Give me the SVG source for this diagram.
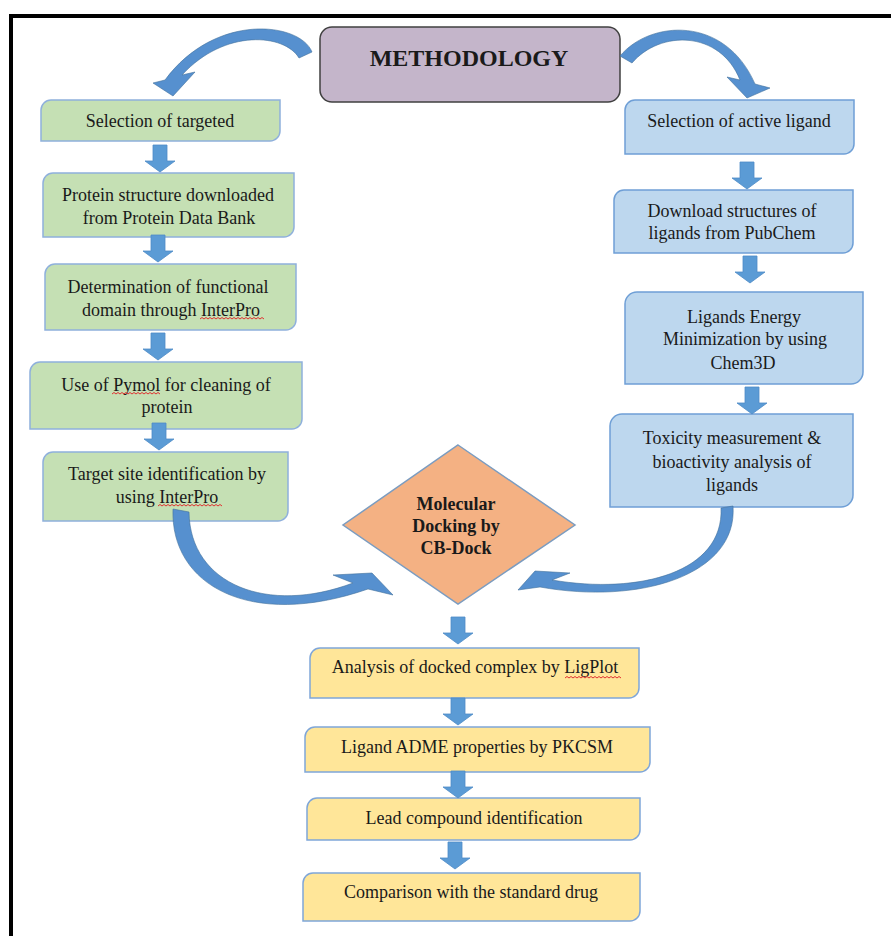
<svg xmlns="http://www.w3.org/2000/svg" width="891" height="936" viewBox="0 0 891 936">
<style>
.t{font-family:"Liberation Serif","Times New Roman",serif;font-size:18px;fill:#1a1a1a;text-anchor:middle}
.b{font-weight:bold}
.g{fill:#c5e0b4;stroke:#8fb0dc;stroke-width:1.5}
.bl{fill:#bdd7ee;stroke:#6f9fd6;stroke-width:1.5}
.y{fill:#ffe699;stroke:#7fa6d9;stroke-width:1.5}
.arr{fill:#5b9bd5;stroke:#4f8cc6;stroke-width:0.8}
.cur{fill:#5690cf;stroke:#41719c;stroke-width:0.6}
.w{fill:none;stroke:#e03030;stroke-width:1}
</style>
<defs>
<path id="ba" d="M -7,0 H 7 V 16 H 15 L 0,27 L -15,16 H -7 Z"/>
</defs>
<rect x="0" y="0" width="891" height="936" fill="#ffffff"/>
<rect x="11" y="16" width="900" height="950" fill="none" stroke="#000" stroke-width="4"/>

<g id="methodology">
<rect x="320" y="27" width="300" height="75" rx="12" fill="#c4b5ca" stroke="#404040" stroke-width="1.5"/>
<text class="t b" x="469" y="66" style="font-size:24px">METHODOLOGY</text>
</g>

<g id="n-selection-targeted">
<path class="g" d="M51,100 H280 V131 A10,10 0 0 1 270,141 H41 V110 A10,10 0 0 1 51,100 Z"/>
<text class="t" x="160" y="127">Selection of targeted</text>
</g>
<g id="n-protein-structure">
<path class="g" d="M53,173 H294 V227 A10,10 0 0 1 284,237 H43 V183 A10,10 0 0 1 53,173 Z"/>
<text class="t" x="168" y="201">Protein structure downloaded</text>
<text class="t" x="169" y="224">from Protein Data Bank</text>
</g>
<g id="n-functional-domain">
<path class="g" d="M55,264 H296 V320 A10,10 0 0 1 286,330 H45 V274 A10,10 0 0 1 55,264 Z"/>
<text class="t" x="168" y="293">Determination of functional</text>
<text class="t" x="171" y="316">domain through InterPro</text>
<path class="w" d="M200,319 l2,-1.5 2,1.5 2,-1.5 2,1.5 2,-1.5 2,1.5 2,-1.5 2,1.5 2,-1.5 2,1.5 2,-1.5 2,1.5 2,-1.5 2,1.5 2,-1.5 2,1.5 2,-1.5 2,1.5 2,-1.5 2,1.5 2,-1.5 2,1.5 2,-1.5 2,1.5 2,-1.5 2,1.5 2,-1.5 2,1.5 2,-1.5 2,1.5 2,-1.5 2,1.5"/>
</g>
<g id="n-pymol">
<path class="g" d="M40,362 H302 V419 A10,10 0 0 1 292,429 H30 V372 A10,10 0 0 1 40,362 Z"/>
<text class="t" x="166" y="391">Use of Pymol for cleaning of</text>
<text class="t" x="167" y="413">protein</text>
<path class="w" d="M112,394 l2,-1.5 2,1.5 2,-1.5 2,1.5 2,-1.5 2,1.5 2,-1.5 2,1.5 2,-1.5 2,1.5 2,-1.5 2,1.5 2,-1.5 2,1.5 2,-1.5 2,1.5 2,-1.5 2,1.5 2,-1.5 2,1.5 2,-1.5 2,1.5 2,-1.5 2,1.5"/>
</g>
<g id="n-target-site">
<path class="g" d="M53,452 H288 V511 A10,10 0 0 1 278,521 H43 V462 A10,10 0 0 1 53,452 Z"/>
<text class="t" x="167" y="480">Target site identification by</text>
<text class="t" x="167" y="503">using InterPro</text>
<path class="w" d="M158,506 l2,-1.5 2,1.5 2,-1.5 2,1.5 2,-1.5 2,1.5 2,-1.5 2,1.5 2,-1.5 2,1.5 2,-1.5 2,1.5 2,-1.5 2,1.5 2,-1.5 2,1.5 2,-1.5 2,1.5 2,-1.5 2,1.5 2,-1.5 2,1.5 2,-1.5 2,1.5 2,-1.5 2,1.5 2,-1.5 2,1.5 2,-1.5 2,1.5 2,-1.5 2,1.5"/>
</g>

<g id="n-active-ligand">
<path class="bl" d="M635,100 H854 V144 A10,10 0 0 1 844,154 H625 V110 A10,10 0 0 1 635,100 Z"/>
<text class="t" x="739" y="127">Selection of active ligand</text>
</g>
<g id="n-download-ligands">
<path class="bl" d="M624,190 H853 V243 A10,10 0 0 1 843,253 H614 V200 A10,10 0 0 1 624,190 Z"/>
<text class="t" x="732" y="217">Download structures of</text>
<text class="t" x="732" y="239">ligands from PubChem</text>
</g>
<g id="n-energy-min">
<path class="bl" d="M637,292 H863 V372 A12,12 0 0 1 851,384 H625 V304 A12,12 0 0 1 637,292 Z"/>
<text class="t" x="744" y="323">Ligands Energy</text>
<text class="t" x="745" y="345">Minimization by using</text>
<text class="t" x="743" y="369">Chem3D</text>
</g>
<g id="n-toxicity">
<path class="bl" d="M622,414 H853 V495 A12,12 0 0 1 841,507 H610 V426 A12,12 0 0 1 622,414 Z"/>
<text class="t" x="732" y="444">Toxicity measurement &amp;</text>
<text class="t" x="732" y="468">bioactivity analysis of</text>
<text class="t" x="732" y="491">ligands</text>
</g>

<g id="n-docking">
<polygon points="458,445 575,525 458,604 343,525" fill="#f4b183" stroke="#7b9cc0" stroke-width="1.5"/>
<text class="t b" x="456" y="510">Molecular</text>
<text class="t b" x="456" y="532">Docking by</text>
<text class="t b" x="456" y="554">CB-Dock</text>
</g>

<g id="n-ligplot">
<path class="y" d="M320,648 H639 V688 A10,10 0 0 1 629,698 H310 V658 A10,10 0 0 1 320,648 Z"/>
<text class="t" x="475" y="673">Analysis of docked complex by LigPlot</text>
<path class="w" d="M565,678 l2,-1.5 2,1.5 2,-1.5 2,1.5 2,-1.5 2,1.5 2,-1.5 2,1.5 2,-1.5 2,1.5 2,-1.5 2,1.5 2,-1.5 2,1.5 2,-1.5 2,1.5 2,-1.5 2,1.5 2,-1.5 2,1.5 2,-1.5 2,1.5 2,-1.5 2,1.5 2,-1.5 2,1.5 2,-1.5 2,1.5"/>
</g>
<g id="n-adme">
<path class="y" d="M315,727 H650 V762 A10,10 0 0 1 640,772 H305 V737 A10,10 0 0 1 315,727 Z"/>
<text class="t" x="477" y="753">Ligand ADME properties by PKCSM</text>
</g>
<g id="n-lead">
<path class="y" d="M317,798 H640 V830 A10,10 0 0 1 630,840 H307 V808 A10,10 0 0 1 317,798 Z"/>
<text class="t" x="474" y="824">Lead compound identification</text>
</g>
<g id="n-comparison">
<path class="y" d="M313,873 H640 V911 A10,10 0 0 1 630,921 H303 V883 A10,10 0 0 1 313,873 Z"/>
<text class="t" x="471" y="898">Comparison with the standard drug</text>
</g>

<g id="connectors">
<path class="cur" d="M312,52 C300,22 215,12 165,80 L153,83 L173,96 L195,72 L182,75 C225,28 285,34 299,58 Z"/>
<path class="cur" d="M620,56 C650,20 725,15 755,84 L770,88 L747,98 L727,77 L740,80 C720,30 660,30 632,63 Z"/>
<path class="cur" d="M173,509 C170,585 250,630 368,589 L393,595 L372,573 L333,575 L353,583 C268,615 190,585 189,512 Z"/>
<path class="cur" d="M733,506 C738,575 640,605 540,587 L518,590 L535,571 L570,573 L552,580 C640,595 724,572 721,508 Z"/>
<use href="#ba" class="arr" transform="translate(160,145)"/>
<use href="#ba" class="arr" transform="translate(158,235)"/>
<use href="#ba" class="arr" transform="translate(158,333)"/>
<use href="#ba" class="arr" transform="translate(159,423)"/>
<use href="#ba" class="arr" transform="translate(747,162)"/>
<use href="#ba" class="arr" transform="translate(750,256)"/>
<use href="#ba" class="arr" transform="translate(752,387)"/>
<use href="#ba" class="arr" transform="translate(458,617)"/>
<use href="#ba" class="arr" transform="translate(458,698)"/>
<use href="#ba" class="arr" transform="translate(458,771)"/>
<use href="#ba" class="arr" transform="translate(455,842)"/>
</g>
</svg>
